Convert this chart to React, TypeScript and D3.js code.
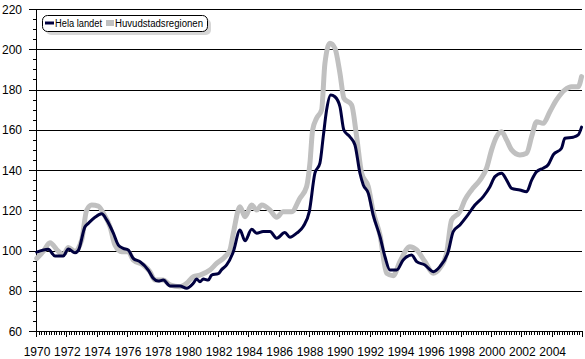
import React from "react";
import * as d3 from "d3";

// Index series (decimal year, index value)
const helaYears = [1970.05,1970.81,1971.25,1971.8,1972.13,1972.57,1972.79,1973.23,1973.45,1973.89,1974.33,1974.66,1975.1,1975.43,1975.75,1976.08,1976.41,1976.86,1977.4,1977.73,1978.06,1978.39,1978.84,1979.49,1979.93,1980.37,1980.59,1980.81,1981.03,1981.36,1981.58,1982.02,1982.24,1982.57,1983.01,1983.45,1983.78,1984.22,1984.55,1984.98,1985.43,1985.87,1986.41,1986.74,1987.19,1987.62,1988.02,1988.39,1988.72,1988.94,1989.16,1989.43,1989.71,1990.04,1990.3,1990.7,1991.03,1991.36,1991.58,1991.91,1992.23,1992.68,1993.01,1993.34,1993.78,1994.21,1994.77,1995.1,1995.64,1996.19,1996.63,1997.18,1997.51,1997.95,1998.39,1998.94,1999.49,1999.93,2000.26,2000.7,2001.03,2001.36,2001.9,2002.35,2002.68,2003.01,2003.44,2003.77,2004.1,2004.65,2004.87,2005.42,2005.75,2005.97];
const helaValues = [99.2,100.6,97.3,97.3,100.8,98.9,100,111.8,113.5,116.5,118.2,115.2,108.6,102.7,101.1,100.3,96.1,94.4,90.3,86.2,84.8,85.3,82.4,82.4,81.2,83.7,85.8,84.5,85.8,85.3,87.8,88.5,90.5,92.8,99.4,110.2,104.8,110.5,108.6,109.4,109.4,106.1,108.9,106.6,108.6,111.9,119.3,138.4,143.4,156.6,169.8,177.3,176.4,171.5,159.8,156.5,152.4,138.4,132.6,128.4,117.7,106.9,96.9,90.3,90.3,95.3,97.8,94.5,92.8,89.5,92,99.4,109.4,112.7,116.8,122.6,126.8,131.7,136.7,138.4,135,130.9,130.1,129.2,135,139.2,140.9,142.6,147.5,150.8,155.8,156.3,157.4,161.3];

const huvudYears = [1970.05,1970.48,1970.92,1971.47,1971.8,1972.13,1972.57,1973.01,1973.34,1973.67,1974.11,1974.44,1974.88,1975.21,1975.65,1976.08,1976.41,1977.07,1977.51,1977.84,1978.39,1978.84,1979.49,1979.93,1980.37,1980.81,1981.47,1981.91,1982.46,1982.79,1983.01,1983.45,1983.78,1984.22,1984.55,1984.88,1985.43,1985.87,1986.3,1986.86,1987.4,1987.84,1988.06,1988.24,1988.5,1988.83,1989.05,1989.38,1989.71,1990.04,1990.3,1990.81,1991.14,1991.47,1991.91,1992.23,1992.68,1993.12,1993.55,1994.0,1994.65,1995.1,1995.64,1996.19,1996.63,1997.07,1997.4,1997.95,1998.28,1998.72,1999.27,1999.71,2000.04,2000.37,2000.7,2001.03,2001.36,2001.9,2002.35,2002.68,2003.01,2003.44,2003.88,2004.32,2004.87,2005.31,2005.75,2005.97];
const huvudValues = [96.1,99.5,103.9,99.6,97.9,101.5,99.6,105.2,120,122.6,122.1,118.5,111.8,102.7,99.4,99.4,95.3,92.8,89.5,85.3,85.3,82.9,82,83.7,87,87.8,90.3,93.6,96.9,100.3,108.6,121.8,116.8,122.6,120.1,122.6,120.1,116.5,119.3,119.3,126,131.7,143.3,159.9,165.7,169.8,193,203,200.5,188.1,175.7,172.3,156.6,138.4,131.7,119.3,107.7,88.7,87.5,94.5,101.9,100.3,94.5,88.7,91.2,98.6,115.1,119.3,125.1,130.1,135,140.9,150,156.6,159,154.9,150,147.5,148.3,156.6,164,163.2,169,174.8,179.8,181.4,181.4,186.4];

const yTicks = [60, 80, 100, 120, 140, 160, 180, 200, 220];
const xLabels = [1970,1972,1974,1976,1978,1980,1982,1984,1986,1988,1990,1992,1994,1996,1998,2000,2002,2004];
const seriesNames = ["Hela landet", "Huvudstadsregionen"];

const W = 585, H = 359;
const left = 36, right = 582, top = 9, bottom = 331;
const FONT = "'Liberation Sans', Arial, sans-serif";
const DARK = "#00003f";
const GRAY = "#c0c0c0";

export default function App() {
  const x = d3.scaleLinear().domain([1970, 2006]).range([left, right]);
  const y = d3.scaleLinear().domain([60, 220]).range([bottom, top]);

  const line = d3
    .line<[number, number]>()
    .x((d) => x(d[0]))
    .y((d) => y(d[1]))
    .curve(d3.curveMonotoneX);

  const hela = helaYears.map((t, i) => [t, helaValues[i]] as [number, number]);
  const huvud = huvudYears.map((t, i) => [t, huvudValues[i]] as [number, number]);

  const minorY = d3.range(60, 221, 5);
  const minorX = d3.range(0, 36 * 6 + 1).map((i) => 1970 + i / 6);

  return (
    <svg
      width={W}
      height={H}
      style={{ position: "absolute", left: 0, top: 0, background: "#fff" }}
      fontFamily={FONT}
    >
      <rect x={0} y={0} width={W} height={H} fill="#fff" />
      {/* gridlines */}
      {yTicks.filter((v) => v > 60).map((v) => (
        <line key={"g" + v} x1={left - 7} x2={right} y1={Math.round(y(v)) + 0.5} y2={Math.round(y(v)) + 0.5} stroke="#000" strokeWidth={1} />
      ))}
      {/* y minor ticks */}
      {minorY.map((v) => (
        <line key={"ym" + v} x1={left - 3} x2={left} y1={Math.round(y(v)) + 0.5} y2={Math.round(y(v)) + 0.5} stroke="#000" />
      ))}
      {/* y labels */}
      {yTicks.map((v) => (
        <text key={"yl" + v} x={22} y={y(v) + 4.5} textAnchor="end" fontSize={12} fill="#000">
          {v}
        </text>
      ))}
      {/* x axis */}
      <line x1={left - 7} x2={right} y1={bottom + 0.5} y2={bottom + 0.5} stroke="#000" />
      {minorX.map((t, i) => (
        <line key={"xm" + i} x1={Math.round(x(t)) + 0.5} x2={Math.round(x(t)) + 0.5} y1={bottom} y2={bottom + (i % 12 === 0 ? 6 : 4)} stroke="#000" />
      ))}
      {xLabels.map((t) => (
        <text key={"xl" + t} x={x(t) + 1} y={356} textAnchor="middle" fontSize={12} fill="#000">
          {t}
        </text>
      ))}
      {/* y axis */}
      <line x1={left + 0.5} x2={left + 0.5} y1={top} y2={bottom + 6} stroke="#000" />

      {/* series */}
      <path d={line(huvud) || ""} fill="none" stroke={GRAY} strokeWidth={5} strokeLinejoin="round" strokeLinecap="round" />
      <path d={line(hela) || ""} fill="none" stroke={DARK} strokeWidth={3} strokeLinejoin="round" strokeLinecap="round" />

      {/* legend */}
      <rect x={46} y={19} width={165} height={16} rx={5} fill="#d6d6d6" />
      <rect x={42.5} y={15.5} width={165} height={16} rx={5} fill="#fff" stroke="#000" strokeWidth={1} />
      <line x1={45} x2={54} y1={23} y2={23} stroke={DARK} strokeWidth={3} />
      <text x={55} y={27} fontSize={10} fill="#000" textLength={47} lengthAdjust="spacingAndGlyphs">
        {seriesNames[0]}
      </text>
      <rect x={106} y={20} width={8} height={6} fill={GRAY} />
      <text x={115} y={27} fontSize={10} fill="#000" textLength={88} lengthAdjust="spacingAndGlyphs">
        {seriesNames[1]}
      </text>
    </svg>
  );
}
